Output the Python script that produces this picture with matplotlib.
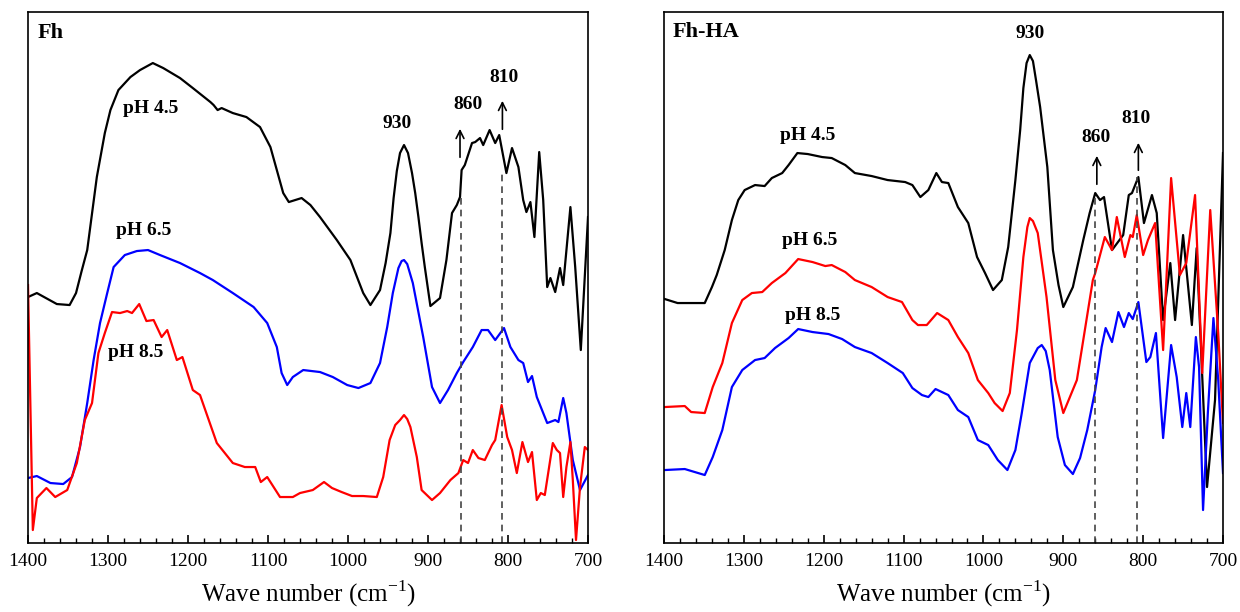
import numpy as np
import matplotlib
matplotlib.use('Agg')
import matplotlib.pyplot as plt

plt.rcParams['font.family'] = 'Liberation Serif'
plt.rcParams['mathtext.fontset'] = 'custom'
plt.rcParams['mathtext.rm'] = 'Liberation Serif'

# ---- Fh (left panel), wave number / intensity (a.u.) ----
fh45_w = [1400, 1389, 1364, 1348, 1340, 1333, 1326, 1314, 1304, 1297, 1287, 1272, 1260, 1244, 1231,
          1210, 1194, 1172, 1168, 1163, 1158, 1144, 1127, 1110, 1097, 1089, 1081, 1074, 1066, 1058,
          1047, 1035, 1014, 997, 981, 972, 960, 953, 947, 943, 939, 935, 930, 925, 920, 916, 912, 908,
          904, 897, 885, 877, 870, 864, 860, 858, 854, 845, 841, 835, 831, 823, 816, 811, 802, 795,
          787, 781, 777, 772, 767, 761, 756, 751, 747, 741, 735, 731, 722, 716, 709, 700]
fh45_a = [246, 250, 239, 238, 250, 272, 293, 366, 410, 433, 453, 466, 473, 480, 475,
          465, 455, 441, 438, 433, 435, 430, 426, 416, 396, 373, 350, 341, 343, 345,
          338, 326, 303, 283, 250, 238, 253, 280, 310, 345, 372, 390, 398, 390, 370, 350, 326, 300,
          276, 237, 245, 283, 330, 338, 346, 373, 378, 400, 401, 405, 398, 413, 400, 408, 370, 395,
          376, 343, 331, 341, 306, 391, 343, 256, 265, 251, 275, 258, 336, 276, 193, 326]

fh65_w = [1400, 1389, 1372, 1356, 1345, 1335, 1326, 1318, 1310, 1301, 1293, 1279, 1264, 1250, 1235,
          1210, 1185, 1169, 1144, 1118, 1101, 1089, 1083, 1076, 1069, 1056, 1035, 1019, 1001, 987,
          972, 960, 951, 944, 937, 933, 930, 926, 919, 906, 895, 885, 875, 864, 856, 844, 833, 825,
          816, 805, 797, 787, 781, 775, 770, 764, 751, 741, 737, 731, 727, 719, 710, 700]
fh65_a = [65, 67, 60, 59, 66, 96, 140, 183, 220, 250, 276, 288, 292, 293, 288,
          280, 270, 263, 250, 236, 220, 196, 170, 158, 166, 173, 171, 166, 158, 155,
          160, 180, 216, 250, 275, 282, 283, 279, 260, 206, 156, 140, 153, 170, 181, 196, 213, 213,
          203, 215, 196, 183, 180, 161, 167, 146, 120, 123, 121, 145, 130, 83, 53, 68]

fh85_w = [1400, 1394, 1389, 1377, 1366, 1351, 1339, 1329, 1320, 1312, 1304, 1295, 1285, 1276, 1270,
          1261, 1252, 1243, 1233, 1226, 1214, 1207, 1194, 1185, 1164, 1144, 1129, 1116, 1109, 1101,
          1085, 1069, 1060, 1044, 1030, 1020, 1008, 995, 981, 964, 956, 948, 941, 935, 930, 926,
          922, 914, 908, 895, 885, 872, 862, 856, 850, 844, 837, 829, 820, 816, 808, 801, 795, 789,
          782, 775, 770, 764, 759, 754, 744, 739, 735, 731, 727, 722, 719, 715, 710, 704, 700]
fh85_a = [258, 13, 45, 55, 46, 53, 80, 123, 140, 190, 210, 231, 230, 232, 230,
          239, 222, 223, 206, 213, 183, 186, 153, 148, 100, 80, 76, 76, 61, 66,
          46, 46, 50, 53, 61, 55, 51, 47, 47, 46, 66, 103, 118, 123, 128, 124,
          116, 86, 53, 43, 50, 63, 70, 83, 80, 93, 85, 83, 98, 103, 138, 106, 93, 70,
          101, 81, 91, 43, 50, 48, 100, 93, 90, 46, 76, 101, 63, 3, 56, 96, 93]

# ---- Fh-HA (right panel) ----
ha45_w = [1399, 1383, 1366, 1349, 1340, 1334, 1324, 1315, 1307, 1299, 1286, 1274, 1265, 1252, 1244,
          1233, 1220, 1202, 1190, 1173, 1161, 1140, 1120, 1098, 1089, 1079, 1069, 1059, 1052, 1044,
          1032, 1019, 1008, 998, 988, 977, 969, 960, 954, 950, 946, 942, 938, 934, 929, 920, 913,
          906, 900, 888, 875, 867, 860, 854, 849, 839, 825, 818, 814, 806, 799, 789, 783, 775, 766,
          760, 750, 739, 733, 720, 710, 700]
ha45_a = [244, 240, 240, 240, 256, 268, 293, 323, 343, 353, 358, 357, 365, 370, 378,
          390, 389, 386, 385, 378, 370, 367, 363, 361, 358, 346, 353, 370, 361, 360,
          336, 320, 286, 270, 253, 263, 296, 363, 413, 455, 480, 488, 482, 462, 436, 376, 293,
          258, 236, 256, 303, 330, 350, 343, 346, 293, 308, 348, 350, 366, 320, 348, 330, 223, 280,
          223, 308, 218, 295, 56, 143, 390]

ha65_w = [1399, 1374, 1366, 1349, 1339, 1327, 1315, 1302, 1290, 1277, 1265, 1248, 1232, 1214, 1198,
          1190, 1173, 1161, 1140, 1120, 1102, 1089, 1082, 1071, 1058, 1044, 1032, 1019, 1007, 994,
          986, 976, 967, 958, 950, 945, 942, 938, 932, 921, 910, 900, 883, 873, 863, 860, 848, 839,
          833, 823, 816, 813, 808, 800, 794, 785, 775, 765, 754, 746, 735, 726, 716, 706, 700]
ha65_a = [136, 137, 131, 130, 156, 180, 220, 243, 250, 251, 260, 270, 284, 281, 277,
          278, 271, 263, 256, 246, 241, 223, 218, 218, 230, 223, 206, 190, 163, 150,
          140, 132, 150, 213, 286, 316, 325, 322, 310, 246, 163, 130, 163, 213, 263, 270, 306, 293,
          326, 286, 308, 306, 328, 288, 303, 320, 193, 365, 268, 280, 348, 170, 333, 210, 120]

ha85_w = [1399, 1374, 1349, 1339, 1327, 1315, 1302, 1286, 1274, 1261, 1244, 1232, 1214, 1194, 1177,
          1161, 1140, 1120, 1101, 1089, 1077, 1069, 1060, 1044, 1032, 1019, 1007, 994, 982, 970,
          960, 952, 942, 932, 927, 922, 917, 907, 898, 888, 879, 870, 860, 852, 847, 839, 831, 824,
          818, 813, 806, 796, 791, 784, 780, 775, 765, 758, 751, 746, 741, 734, 730, 725, 719, 712,
          706, 700]
ha85_a = [73, 74, 68, 86, 113, 156, 173, 183, 185, 195, 205, 214, 211, 209, 204,
          196, 190, 180, 170, 155, 148, 146, 154, 148, 133, 126, 103, 98, 83, 73,
          93, 130, 180, 195, 198, 192, 173, 106, 78, 69, 85, 113, 153, 196, 215, 201, 231, 216,
          230, 224, 241, 181, 186, 210, 163, 105, 198, 166, 116, 150, 116, 206, 176, 33, 130, 225,
          163, 70]

fig = plt.figure(figsize=(12.4, 6.12), dpi=100)
ax1 = fig.add_axes([0.0226, 0.1127, 0.4516, 0.8676])
ax2 = fig.add_axes([0.5355, 0.1127, 0.4508, 0.8676])

lw = 1.6
ax1.plot(fh45_w, fh45_a, color='black', lw=lw)
ax1.plot(fh65_w, fh65_a, color='#0000ff', lw=lw)
ax1.plot(fh85_w, fh85_a, color='#ff0000', lw=lw)

ax2.plot(ha45_w, ha45_a, color='black', lw=lw)
ax2.plot(ha65_w, ha65_a, color='#ff0000', lw=lw)
ax2.plot(ha85_w, ha85_a, color='#0000ff', lw=lw)

bold = dict(fontsize=14, fontweight='bold', ha='center', va='center')
arrow = dict(arrowstyle='->', lw=1.2, color='black', mutation_scale=14)

# left panel annotations
ax1.text(1388, 510, 'Fh', fontsize=16, fontweight='bold', ha='left', va='center')
ax1.text(1247, 435, 'pH 4.5', **bold)
ax1.text(1255, 313, 'pH 6.5', **bold)
ax1.text(1265, 191, 'pH 8.5', **bold)
ax1.text(939, 420, '930', **bold)
ax1.text(850, 439, '860', **bold)
ax1.text(805, 466, '810', **bold)
ax1.plot([859, 859], [0, 346], ls='--', color='#444444', lw=1.2, dashes=(4, 3))
ax1.plot([808, 808], [0, 370], ls='--', color='#444444', lw=1.2, dashes=(4, 3))
ax1.annotate('', xy=(860, 417), xytext=(860, 383), arrowprops=arrow)
ax1.annotate('', xy=(807, 445), xytext=(807, 411), arrowprops=arrow)

# right panel annotations
ax2.text(1389, 511, 'Fh-HA', fontsize=16, fontweight='bold', ha='left', va='center')
ax2.text(1220, 408, 'pH 4.5', **bold)
ax2.text(1218, 303, 'pH 6.5', **bold)
ax2.text(1214, 228, 'pH 8.5', **bold)
ax2.text(942, 510, '930', **bold)
ax2.text(859, 406, '860', **bold)
ax2.text(809, 425, '810', **bold)
ax2.plot([860, 860], [0, 350], ls='--', color='#444444', lw=1.2, dashes=(4, 3))
ax2.plot([808, 808], [0, 366], ls='--', color='#444444', lw=1.2, dashes=(4, 3))
ax2.annotate('', xy=(858, 390), xytext=(858, 356), arrowprops=arrow)
ax2.annotate('', xy=(806, 403), xytext=(806, 370), arrowprops=arrow)

for ax in (ax1, ax2):
    ax.set_xlim(1400, 700)
    ax.set_ylim(0, 531)
    ax.set_yticks([])
    ax.set_xticks(np.arange(1400, 699, -100))
    ax.set_xticks(np.arange(1400, 699, -20), minor=True)
    ax.tick_params(axis='x', which='major', direction='in', length=6, width=1.2,
                   labelsize=14, pad=7)
    ax.tick_params(axis='x', which='minor', direction='in', length=3.5, width=1.0)
    for s in ax.spines.values():
        s.set_linewidth(1.2)
    ax.set_xlabel('Wave number (cm$^{-1}$)', fontsize=18, labelpad=6)

fig.savefig('out.png', dpi=100)
